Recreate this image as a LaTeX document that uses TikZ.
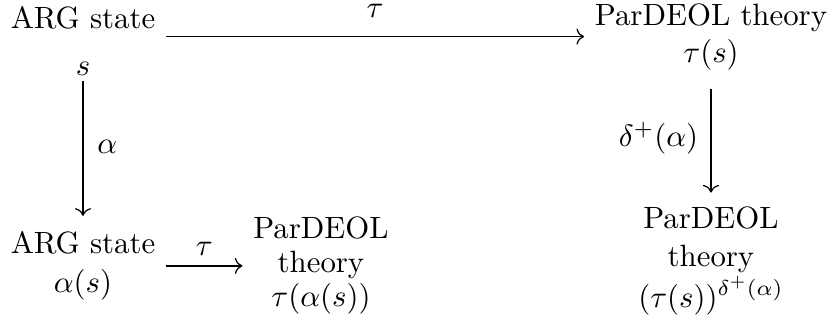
\documentclass[tikz,border=0pt]{standalone}
\usetikzlibrary{arrows.meta}
\begin{document}
\begin{tikzpicture}[x=0.3247pt,y=-0.3247pt,
  obj/.style={align=center,inner xsep=3.33pt,inner ysep=0pt,font=\fontsize{10}{12}\selectfont},
  map/.style={draw,line width=0.4pt,-{Computer Modern Rightarrow}},
  lab/.style={inner sep=0pt,font=\fontsize{10}{12}\selectfont}]
\useasboundingbox (0,0) rectangle (832,323);
\node[obj] (A) at (83,41) {ARG state\\[3.26pt]$s$};
\node[obj] (B) at (711,36.6) {ParDEOL theory\\$\tau(s)$};
\node[obj] (C) at (83,265.9) {ARG state\\[0.66pt]$\alpha(s)$};
\node[obj] (D) at (321,265.4) {ParDEOL\\[-0.96pt]theory\\[-0.96pt]$\tau(\alpha(s))$};
\node[obj] (E) at (711,260.9) {ParDEOL\\[0.2pt]theory\\[0.2pt]$(\tau(s))^{\delta^+(\alpha)}$};
\draw[map] (A.east |- B.west) -- node[lab,above=6pt] {$\tau$} (B.west);
\draw[map,shorten <=1.6pt,shorten >=4.9pt] (A.south) -- node[lab,pos=0.46,right=4.5pt] {$\alpha$} (C.north);
\draw[map] (C.east) -- node[lab,above=3.3pt] {$\tau$} (C.east -| D.west);
\draw[map,shorten <=5.9pt,shorten >=4.5pt] (B.south) -- node[lab,left=4pt] {$\delta^+(\alpha)$} (E.north);
\end{tikzpicture}
\end{document}
